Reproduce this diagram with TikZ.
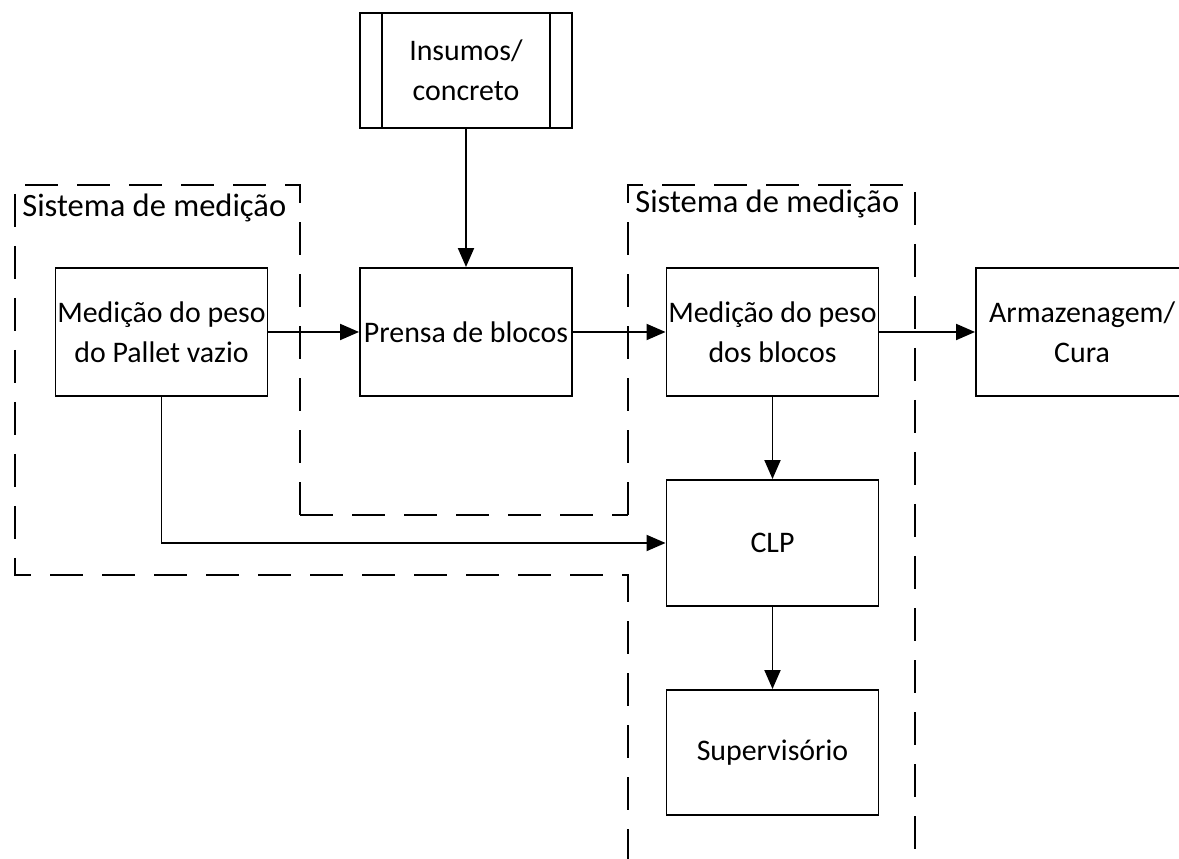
\documentclass[tikz,border=0pt]{standalone}
\usepackage{fontspec}
\setmainfont{Carlito}
\usepackage{xcolor}
\usepackage{tikz}
\usetikzlibrary{arrows.meta}

\tikzset{
  bloco/.style={draw,line width=1.1pt,minimum width=4.24cm,minimum height=2.56cm,align=center,font=\fontsize{17}{22.5}\selectfont,inner sep=1pt},
  seta/.style={line width=1.1pt,-{Triangle[length=0.38cm,width=0.32cm]}},
  regiao/.style={line width=1.2pt,dash pattern=on 0.66cm off 0.38cm},
  rotulo/.style={anchor=base west,font=\fontsize{18.5}{22}\selectfont,inner sep=0pt}
}

\begin{document}
\begin{tikzpicture}
\clip (0,0) rectangle (23.58,17.18);
\node[bloco,minimum height=2.3cm] (ins) at (9.32,15.77) {Insumos/\\concreto};
\draw[line width=1.1pt] ([xshift=0.46cm]ins.north west) -- ([xshift=0.46cm]ins.south west);
\draw[line width=1.1pt] ([xshift=-0.46cm]ins.north east) -- ([xshift=-0.46cm]ins.south east);
\node[bloco] (pallet) at (3.23,10.54) {Medição do peso\\do Pallet vazio};
\node[bloco] (prensa) at (9.32,10.54) {Prensa de blocos};
\node[bloco] (blocos) at (15.45,10.54) {Medição do peso\\dos blocos};
\node[bloco] (armaz) at (21.64,10.54) {Armazenagem/\\Cura};
\node[bloco,minimum height=2.52cm] (clp) at (15.45,6.32) {CLP};
\node[bloco,minimum height=2.5cm] (super) at (15.45,2.13) {Supervisório};

% regioes de medicao
\draw[regiao] (6.0,6.88) -- (6.0,13.48) -- (0.3,13.48) -- (0.3,5.68) -- (12.56,5.68) -- (12.56,0);
\draw[regiao] (6.0,6.88) -- (12.56,6.88);
\draw[regiao] (12.56,6.88) -- (12.56,13.48) -- (18.3,13.48) -- (18.3,0);
\node[rotulo] (lbl1) at (0.44,12.84) {Sistema de medição};
\node[rotulo] (lbl2) at (12.7,12.92) {Sistema de medição};

\draw[seta] (ins) -- (prensa);
\draw[seta] (pallet) -- (prensa);
\draw[seta] (prensa) -- (blocos);
\draw[seta] (blocos) -- (armaz);
\draw[seta] (blocos) -- (clp);
\draw[seta] (pallet) |- (clp);
\draw[seta] (clp) -- (super);
\end{tikzpicture}
\end{document}
